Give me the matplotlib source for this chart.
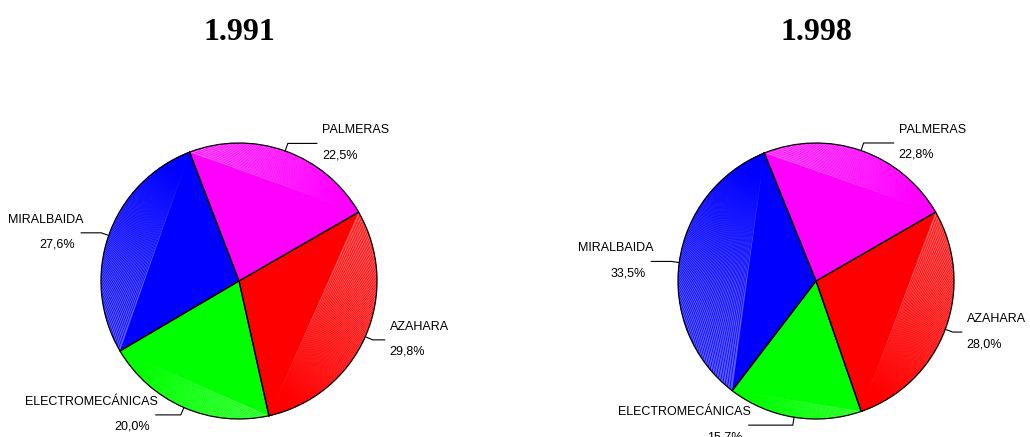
import numpy as np
import matplotlib.pyplot as plt
from matplotlib.colors import to_rgb
from matplotlib.patches import Wedge

CATEGORIES = ["PALMERAS", "AZAHARA", "ELECTROMECÁNICAS", "MIRALBAIDA"]
COLORS = ["#FF00FF", "#FF0000", "#00FF00", "#0000FF"]
YEARS = ["1.991", "1.998"]
SHARES_1991 = [22.5, 29.8, 20.0, 27.6]
SHARES_1998 = [22.8, 28.0, 15.7, 33.5]

# layout (pixels) -- pie radius and centres inside each half of the figure
R_PX = 138
CENTRES = [(239, 156), (301, 156)]
START_ANGLES = [111, 112]
# length of the horizontal leader arm for each label, pixels
ARMS = [[29, 12, 25, 20], [30, 9, 44, 20]]

LABEL_FONT = dict(family="Liberation Sans", fontsize=9, color="black")


def tint(color, amount=0.35):
    c = np.array(to_rgb(color))
    return tuple(c + (1 - c) * amount)


def draw_pie(ax, shares, year, start, arms):
    px = 1.0 / R_PX
    wedges, _ = ax.pie(shares, colors=COLORS, startangle=start,
                       counterclock=False, radius=1.0,
                       wedgeprops=dict(linewidth=0))

    for w, col, name, val, arm in zip(wedges, COLORS, CATEGORIES, shares, arms):
        t1, t2 = np.radians(w.theta1), np.radians(w.theta2)

        # lighter "3D" band between the chord and the arc
        th = np.linspace(t1, t2, 120)
        ax.fill(np.cos(th), np.sin(th), color=tint(col), lw=0, zorder=2)
        n = max(int(np.degrees(t2 - t1) * 0.8), 8)
        for t in np.linspace(t1, t2, n)[1:-1]:
            ax.plot([np.cos(t1), np.cos(t)], [np.sin(t1), np.sin(t)],
                    color=col, lw=0.5, zorder=2)

        ax.add_patch(Wedge((0, 0), 1.0, w.theta1, w.theta2, fill=False,
                           edgecolor="black", linewidth=0.9, zorder=3))

        # leader line + label
        mid = (t1 + t2) / 2
        x0, y0 = np.cos(mid), np.sin(mid)
        x1, y1 = x0 * (1 + 8 * px), y0 * (1 + 8 * px)
        side = 1 if x0 >= 0 else -1
        x2 = x1 + side * arm * px
        ax.plot([x0, x1, x2], [y0, y1, y1], color="black", lw=0.8,
                zorder=3, clip_on=False)

        pct = f"{val:.1f}%".replace(".", ",")
        if side > 0:
            ax.text(x2 + 5 * px, y1 + 13 * px, name, ha="left", va="center",
                    **LABEL_FONT)
            ax.text(x2 + 5 * px, y1 - 12 * px, pct, ha="left", va="center",
                    **LABEL_FONT)
        else:
            ax.text(x2 + 2 * px, y1 + 13 * px, name, ha="right", va="center",
                    **LABEL_FONT)
            ax.text(x2 - 6 * px, y1 - 12 * px, pct, ha="right", va="center",
                    **LABEL_FONT)

    ax.text(0, (437 - 40 - 156) * px, year, ha="center", va="baseline",
            family="Liberation Serif", fontweight="bold", fontsize=23)


fig = plt.figure(figsize=(10.30, 4.37), dpi=100)
for i, shares in enumerate([SHARES_1991, SHARES_1998]):
    ax = fig.add_axes([0.5 * i, 0, 0.5, 1])
    draw_pie(ax, shares, YEARS[i], START_ANGLES[i], ARMS[i])
    cx, cy = CENTRES[i]
    ax.set_xlim(-cx / R_PX, (515 - cx) / R_PX)
    ax.set_ylim(-cy / R_PX, (437 - cy) / R_PX)
    ax.set_aspect("auto")
    ax.axis("off")

fig.savefig("out.png", dpi=100, facecolor="white")
